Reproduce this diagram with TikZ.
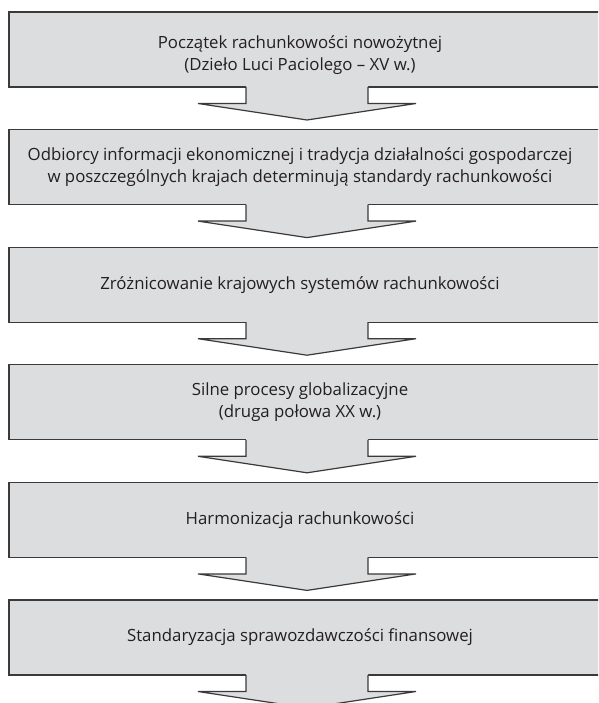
\documentclass[tikz,border=0pt]{standalone}
\usepackage{fontspec}
\setmainfont{Open Sans}
\usetikzlibrary{positioning,calc}

\definecolor{boxgray}{HTML}{DCDDDF}
\definecolor{linegray}{HTML}{3A3A3A}
\definecolor{textgray}{HTML}{231F20}

\tikzset{
  stage/.style={draw=linegray, line width=1.2pt, fill=boxgray, outer sep=0pt,
    minimum width=596pt, minimum height=75pt, inner sep=0pt},
  stagetext/.style={align=center, text=textgray, xshift=-7pt,
    font=\fontsize{16.8}{22}\selectfont},
  stagearrow/.style={draw=linegray, line width=1.2pt, line join=miter},
}

% block arrow hanging under a stage box
\newcommand{\stagearrow}[1]{%
  \fill[boxgray] ($(#1.south)+(-61,-0.8)$) -- ++(0,17.3) -- ++(-48,0)
    -- ($(#1.south)+(0,33)$) -- ($(#1.south)+(109,16.5)$) -- ++(-48,0)
    -- ($(#1.south)+(61,-0.8)$) -- cycle;
  \draw[stagearrow] ($(#1.south)+(-61,0)$) -- ++(0,16.5) -- ++(-48,0)
    -- ($(#1.south)+(0,33)$) -- ($(#1.south)+(109,16.5)$) -- ++(-48,0)
    -- ($(#1.south)+(61,0)$);
}

\begin{document}
\begin{tikzpicture}[x=1pt,y=-1pt,node distance=42.6pt]
    \useasboundingbox (0,0) rectangle (598,703);
    \clip (0,0) rectangle (598,703);

    % stages of accounting development
    \node[stage, label={[stagetext,yshift=-6pt]center:{Początek rachunkowości nowożytnej\\ (Dzieło Luci Paciolego – XV w.)}}] (s1) at (307,49.5) {};
    \node[stage, below=of s1, label={[stagetext]center:{Odbiorcy informacji ekonomicznej i tradycja działalności gospodarczej\\w poszczególnych krajach determinują standardy rachunkowości}}] (s2) {};
    \node[stage, below=of s2, label={[stagetext]center:{Zróżnicowanie krajowych systemów rachunkowości}}] (s3) {};
    \node[stage, below=of s3, label={[stagetext]center:{Silne procesy globalizacyjne\\(druga połowa XX w.)}}] (s4) {};
    \node[stage, below=of s4, label={[stagetext]center:{Harmonizacja rachunkowości}}] (s5) {};
    \node[stage, below=of s5, label={[stagetext]center:{Standaryzacja sprawozdawczości finansowej}}] (s6) {};

    % arrows between stages
    \foreach \s in {s1,s2,s3,s4,s5,s6}
        \stagearrow{\s};
\end{tikzpicture}
\end{document}
